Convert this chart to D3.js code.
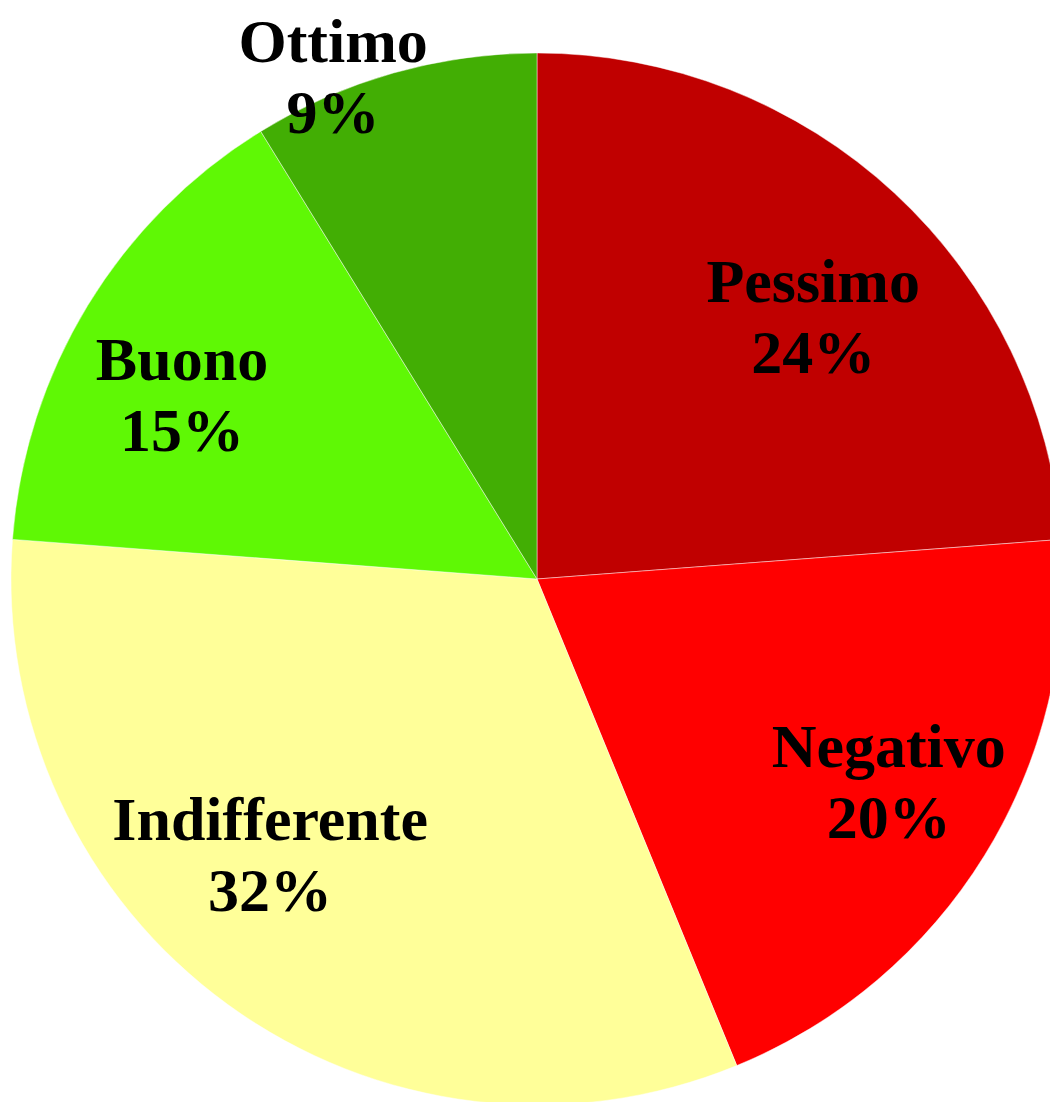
<!DOCTYPE html>
<html>
<head>
<meta charset="utf-8">
<script src="https://cdn.jsdelivr.net/npm/d3@7"></script>
<style>
  html, body { margin: 0; padding: 0; background: #FFFFFF; overflow: hidden; }
</style>
</head>
<body>
<div id="chart"></div>
<script>
// Categories and shares (percent), clockwise from 12 o'clock
const categories = ["Pessimo", "Negativo", "Indifferente", "Buono", "Ottimo"];
const shares = [23.8, 20.0, 32.4, 15.0, 8.8];
const sliceColors = ["#C00000", "#FF0000", "#FFFF99", "#5FF805", "#42AE04"];

// Small manual nudges for the data labels (px), like a hand-placed Excel layout
const labelNudge = {
  Pessimo: [8, 27],
  Negativo: [16, -4],
  Indifferente: [-35, -43],
  Buono: [-18, 21],
  Ottimo: [-56, 19]
};

const width = 1050;
const height = 1102;
const cx = 537;
const cy = 579;
const radius = 526;

const svg = d3
  .select("#chart")
  .append("svg")
  .attr("width", width)
  .attr("height", height);

const rows = categories.map((c, i) => ({ name: c, value: shares[i], color: sliceColors[i] }));

const pie = d3.pie().sort(null).value((d) => d.value);
const arcs = pie(rows);

const arc = d3.arc().innerRadius(0).outerRadius(radius);

const g = svg.append("g").attr("transform", `translate(${cx}, ${cy})`);

// Slices
g.selectAll("path")
  .data(arcs)
  .enter()
  .append("path")
  .attr("d", arc)
  .attr("fill", (d) => d.data.color)
  .attr("stroke", "rgba(255,255,255,0.45)")
  .attr("stroke-width", 1);

// Labels: inside for big slices, just outside for small ones
const labelArcIn = d3.arc().innerRadius(radius * 0.75).outerRadius(radius * 0.75);
const labelArcOut = d3.arc().innerRadius(radius * 1.03).outerRadius(radius * 1.03);

const labels = g
  .selectAll("text.label")
  .data(arcs)
  .enter()
  .append("text")
  .attr("class", "label")
  .attr("text-anchor", "middle")
  .attr("font-family", "'Liberation Serif', 'Times New Roman', serif")
  .attr("font-weight", "bold")
  .attr("font-size", 62)
  .attr("fill", "#000000")
  .attr("transform", (d) => {
    const p = d.data.value < 10 ? labelArcOut.centroid(d) : labelArcIn.centroid(d);
    const n = labelNudge[d.data.name];
    return `translate(${p[0] + n[0]}, ${p[1] + n[1]})`;
  });

labels.append("tspan").attr("x", 0).attr("y", -15).text((d) => d.data.name);
labels
  .append("tspan")
  .attr("x", 0)
  .attr("y", 56)
  .text((d) => `${Math.round(d.data.value)}%`);
</script>
</body>
</html>
